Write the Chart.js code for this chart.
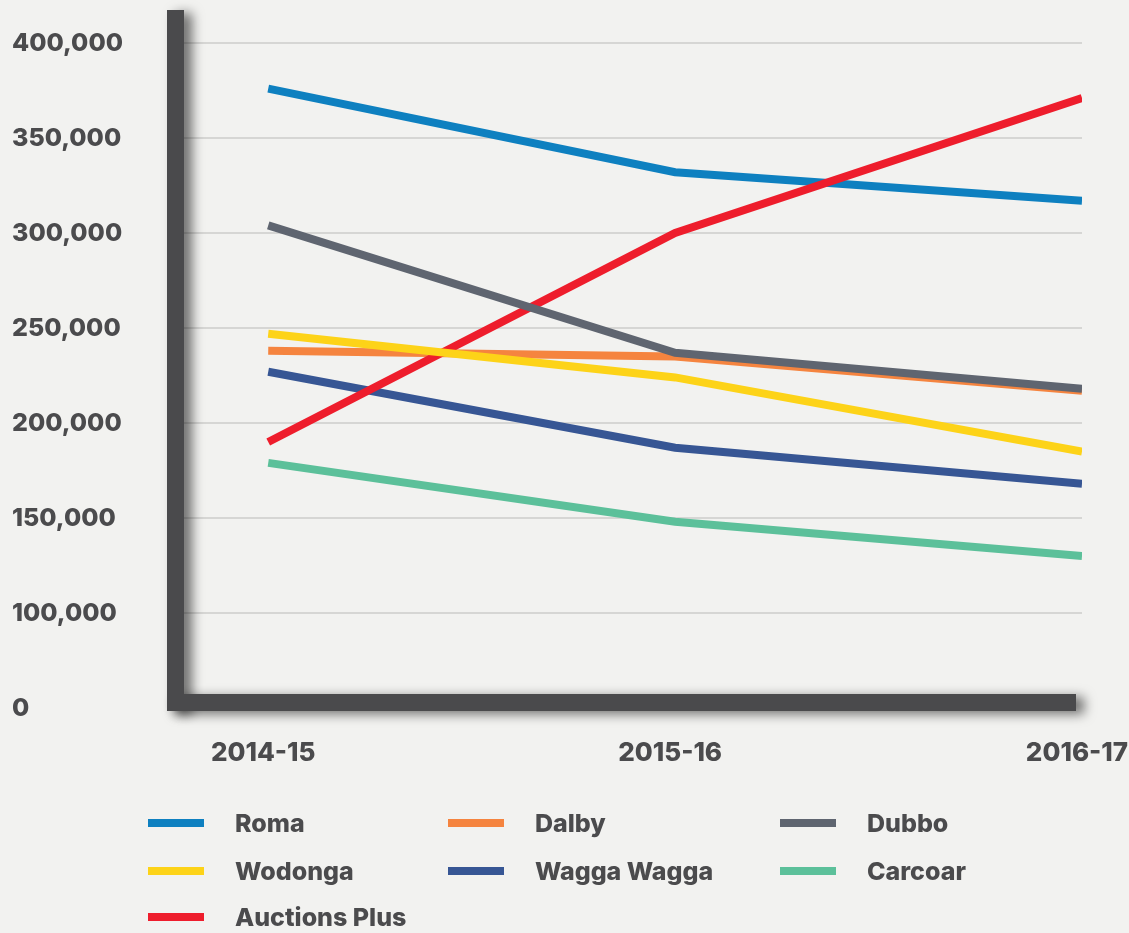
<!DOCTYPE html>
<html>
<head>
<meta charset="utf-8">
<script src="https://cdn.jsdelivr.net/npm/chart.js@4"></script>
<style>
  html, body { margin: 0; padding: 0; background: #f2f2f0; }
  #wrap { position: relative; width: 1129px; height: 933px; overflow: hidden; }
  #chartBox { position: absolute; left: 0; top: 0; width: 1129px; height: 790px; }
  #legend { position: absolute; left: 0; top: 0; width: 1129px; height: 933px; pointer-events: none; }
  .item { position: absolute; height: 30px; display: flex; align-items: center;
          font-family: Inter, sans-serif; font-weight: 800; font-size: 25px; color: #4b4b4d; }
  .swatch { width: 56px; height: 8px; margin-right: 31px; }
</style>
</head>
<body>
<div id="wrap">
  <div id="chartBox"><canvas id="myChart"></canvas></div>
  <div id="legend"></div>
</div>
<script>
const seasons = ['2014-15', '2015-16', '2016-17'];
const yTicks = [50000, 100000, 150000, 200000, 250000, 300000, 350000, 400000];

const roma = [376000, 332000, 317000];
const dalby = [238000, 235000, 217000];
const dubbo = [304000, 237000, 218000];
const wodonga = [247000, 224000, 185000];
const waggaWagga = [227000, 187000, 168000];
const carcoar = [179000, 148000, 130000];
const auctionsPlus = [190000, 300000, 371000];

const textColor = '#4b4b4d';
const axisColor = '#4a4a4c';

function pontos(valores) {
  return valores.map((v, i) => ({ x: i, y: v }));
}

function serie(nome, valores, cor, ordem) {
  return {
    label: nome,
    data: pontos(valores),
    borderColor: cor,
    backgroundColor: cor,
    borderWidth: 8,
    pointRadius: 0,
    pointHoverRadius: 0,
    tension: 0,
    order: ordem
  };
}

// legend order is row by row, 3 columns
const datasets = [
  serie('Roma', roma, '#0e80c0', 7),
  serie('Dalby', dalby, '#f5843f', 6),
  serie('Dubbo', dubbo, '#5f6570', 2),
  serie('Wodonga', wodonga, '#fdd318', 3),
  serie('Wagga Wagga', waggaWagga, '#375694', 5),
  serie('Carcoar', carcoar, '#5cc09a', 1),
  serie('Auctions Plus', auctionsPlus, '#ee1d2c', 4)
];

// thick dark axes with a soft shadow
const eixosGrossos = {
  id: 'eixosGrossos',
  beforeDatasetsDraw(chart) {
    const ctx = chart.ctx;
    const a = chart.chartArea;
    ctx.save();
    ctx.fillStyle = axisColor;
    ctx.shadowColor = 'rgba(0,0,0,0.55)';
    ctx.shadowBlur = 12;
    ctx.shadowOffsetX = 8;
    ctx.shadowOffsetY = 3;
    ctx.fillRect(a.left - 17, a.top - 33, 17, a.bottom - a.top + 36);
    ctx.fillRect(a.left - 17, a.bottom - 14, a.right - 6 - (a.left - 17), 17);
    ctx.shadowColor = 'transparent';
    ctx.fillRect(a.left - 17, a.top - 33, 17, a.bottom - a.top + 36);
    ctx.restore();
  }
};

const ctx = document.getElementById('myChart');

new Chart(ctx, {
  type: 'line',
  data: { datasets: datasets },
  options: {
    responsive: true,
    maintainAspectRatio: false,
    animation: false,
    devicePixelRatio: 1,
    layout: { padding: { top: 43, left: 12, right: 47, bottom: 0 } },
    plugins: {
      legend: { display: false },
      tooltip: { enabled: false }
    },
    scales: {
      x: {
        type: 'linear',
        min: -0.207,
        max: 2,
        afterBuildTicks(scale) {
          scale.ticks = seasons.map((s, i) => ({ value: i }));
        },
        afterFit(scale) {
          scale.paddingLeft = 0;
          scale.paddingRight = 0;
          scale.height = 82;
        },
        grid: { display: false, drawTicks: false },
        border: { display: false },
        ticks: {
          padding: 30,
          labelOffset: -5,
          color: textColor,
          font: { family: 'Inter', weight: '800', size: 26 },
          callback: (v) => seasons[v]
        }
      },
      y: {
        min: 50000,
        max: 400000,
        afterBuildTicks(scale) {
          scale.ticks = yTicks.map(v => ({ value: v }));
        },
        afterFit(scale) {
          scale.width = 172;
          scale.paddingTop = 0;
          scale.paddingBottom = 0;
        },
        grid: {
          drawTicks: false,
          lineWidth: 2,
          color: (c) => c.tick && c.tick.value === 50000 ? 'transparent' : '#d6d6d4'
        },
        border: { display: false },
        ticks: {
          crossAlign: 'far',
          padding: 0,
          color: textColor,
          font: { family: 'Inter', weight: '800', size: 25 },
          callback: (v) => v === 50000 ? '0' : v.toLocaleString('en-US')
        }
      }
    }
  },
  plugins: [eixosGrossos]
});

// html legend in 3 columns
const colX = [148, 448, 780];
const rowY = [823, 871, 917];
const legenda = document.getElementById('legend');
datasets.forEach((d, i) => {
  const el = document.createElement('div');
  el.className = 'item';
  el.style.left = colX[i % 3] + 'px';
  el.style.top = (rowY[Math.floor(i / 3)] - 15) + 'px';
  const sw = document.createElement('span');
  sw.className = 'swatch';
  sw.style.background = d.borderColor;
  const tx = document.createElement('span');
  tx.textContent = d.label;
  el.appendChild(sw);
  el.appendChild(tx);
  legenda.appendChild(el);
});
</script>
</body>
</html>
